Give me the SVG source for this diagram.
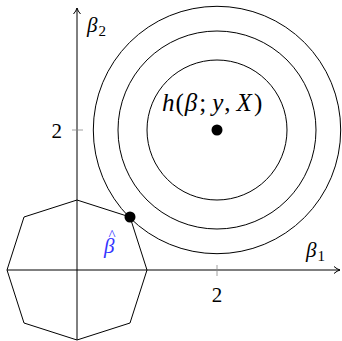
<svg xmlns="http://www.w3.org/2000/svg" width="342" height="341" viewBox="0 0 342 341">
<defs>
<style>
.ax{stroke:#000;stroke-width:1;fill:none}
.tick{stroke:#888;stroke-width:0.8}
.c{stroke:#000;stroke-width:1;fill:none}
</style>
<marker id="arr" markerWidth="10" markerHeight="10" refX="8" refY="5" orient="auto" markerUnits="userSpaceOnUse">
<path d="M2,1.5 Q5,4.2 8,5 Q5,5.8 2,8.5" fill="none" stroke="#000" stroke-width="1"/>
</marker>
</defs>
<rect width="342" height="341" fill="#fff"/>
<g id="axes" font-family="'Liberation Serif', 'DejaVu Serif', serif" font-size="21">
<line class="ax" x1="7" y1="270" x2="340" y2="270" marker-end="url(#arr)"/>
<line class="ax" x1="77" y1="340" x2="77" y2="8" marker-end="url(#arr)"/>
<line class="tick" x1="217" y1="265" x2="217" y2="276"/>
<line class="tick" x1="72" y1="130" x2="83" y2="130"/>
<text x="217" y="302" text-anchor="middle">2</text>
<text x="62" y="138" text-anchor="end">2</text>
<text x="306" y="257" font-style="italic">β<tspan font-size="15" font-style="normal" dx="1" dy="4">1</tspan></text>
<text x="87" y="32" font-style="italic">β<tspan font-size="15" font-style="normal" dx="1" dy="4">2</tspan></text>
</g>
<g id="octagon">
<polygon class="c" points="147,270 130,323 77,340 24,323 7,270 24,217 77,200 130,217"/>
</g>
<g id="contours" font-family="'Liberation Serif', 'DejaVu Serif', serif" font-size="25">
<circle class="c" cx="217" cy="130" r="70"/>
<circle class="c" cx="217" cy="130" r="99"/>
<circle class="c" cx="217" cy="130" r="123.7"/>
<circle cx="217" cy="130" r="5.5" fill="#000"/>
<text x="162" y="111"><tspan font-style="italic">h</tspan><tspan dx="1">(</tspan><tspan font-style="italic" dx="1">β</tspan><tspan dx="2">;</tspan><tspan font-style="italic" dx="6">y</tspan><tspan dx="1">,</tspan><tspan font-style="italic" dx="6">X</tspan><tspan dx="2">)</tspan></text>
</g>
<g id="solution" font-family="'Liberation Serif', 'DejaVu Serif', serif" font-size="21">
<circle cx="130" cy="217" r="5.5" fill="#000"/>
<text x="104" y="253" fill="#3333ff" font-style="italic">β<tspan font-size="15" font-style="normal" dx="-6" dy="-13">^</tspan></text>
</g>
</svg>
